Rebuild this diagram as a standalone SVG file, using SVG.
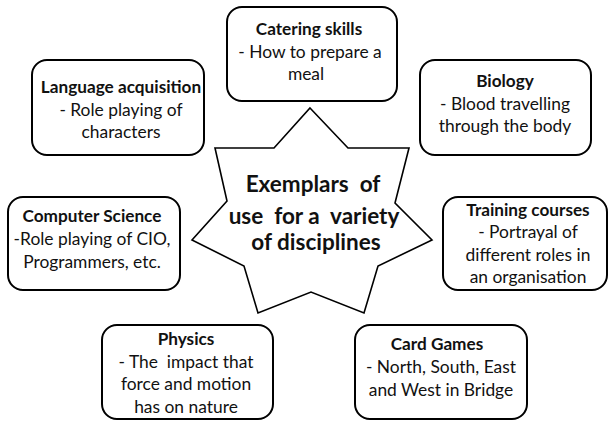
<svg xmlns="http://www.w3.org/2000/svg" width="610" height="421" viewBox="0 0 610 421">
<style>
.box{fill:#fff;stroke:#000;stroke-width:2}
.star{fill:#fff;stroke:#000;stroke-width:1.6;stroke-linejoin:miter}
text{font-family:Lato,"Liberation Sans",sans-serif;fill:#111;text-anchor:middle}
.t{font-weight:bold;font-size:17.2px}
.b{font-size:17.4px}
.s{font-weight:bold;font-size:22.5px}
</style>
<rect width="610" height="421" fill="#fff"/>
<g id="connectors"></g>
<g id="center">
<polygon class="star" points="310,108 348,148 409,148 395,203 432,240 378,266 364,313 311,292 258,313 244,266 192,240 227,201 215,148 274,148"/>
<text class="s" x="313" y="192" xml:space="preserve">Exemplars  of</text>
<text class="s" x="314" y="224" xml:space="preserve">use  for a  variety</text>
<text class="s" x="316" y="250">of disciplines</text>
</g>
<g id="catering">
<rect class="box" x="227" y="7" width="170" height="94" rx="15"/>
<text class="t" x="309" y="35">Catering skills</text>
<text class="b" x="310" y="58">- How to prepare a</text>
<text class="b" x="306" y="80">meal</text>
</g>
<g id="language">
<rect class="box" x="32" y="60" width="172" height="95" rx="15"/>
<text class="t" x="121" y="93">Language acquisition</text>
<text class="b" x="121" y="116">- Role playing of</text>
<text class="b" x="121" y="138">characters</text>
</g>
<g id="biology">
<rect class="box" x="420" y="60" width="171" height="95" rx="15"/>
<text class="t" x="505" y="87">Biology</text>
<text class="b" x="505" y="110">- Blood travelling</text>
<text class="b" x="505" y="132">through the body</text>
</g>
<g id="computer">
<rect class="box" x="8" y="197" width="172" height="93" rx="15"/>
<text class="t" x="92" y="222">Computer Science</text>
<text class="b" x="92" y="245">-Role playing of CIO,</text>
<text class="b" x="92" y="268">Programmers, etc.</text>
</g>
<g id="training">
<rect class="box" x="443" y="197" width="164" height="93" rx="15"/>
<text class="t" x="528" y="216">Training courses</text>
<text class="b" x="528" y="238">- Portrayal of</text>
<text class="b" x="528" y="261">different roles in</text>
<text class="b" x="528" y="283">an organisation</text>
</g>
<g id="physics">
<rect class="box" x="102" y="325" width="171" height="94" rx="15"/>
<text class="t" x="186" y="345">Physics</text>
<text class="b" x="186" y="368" xml:space="preserve">- The  impact that</text>
<text class="b" x="186" y="390">force and motion</text>
<text class="b" x="186" y="413">has on nature</text>
</g>
<g id="cardgames">
<rect class="box" x="355" y="325" width="172" height="94" rx="15"/>
<text class="t" x="437" y="350">Card Games</text>
<text class="b" x="441" y="373">- North, South, East</text>
<text class="b" x="441" y="396">and West in Bridge</text>
</g>
</svg>
